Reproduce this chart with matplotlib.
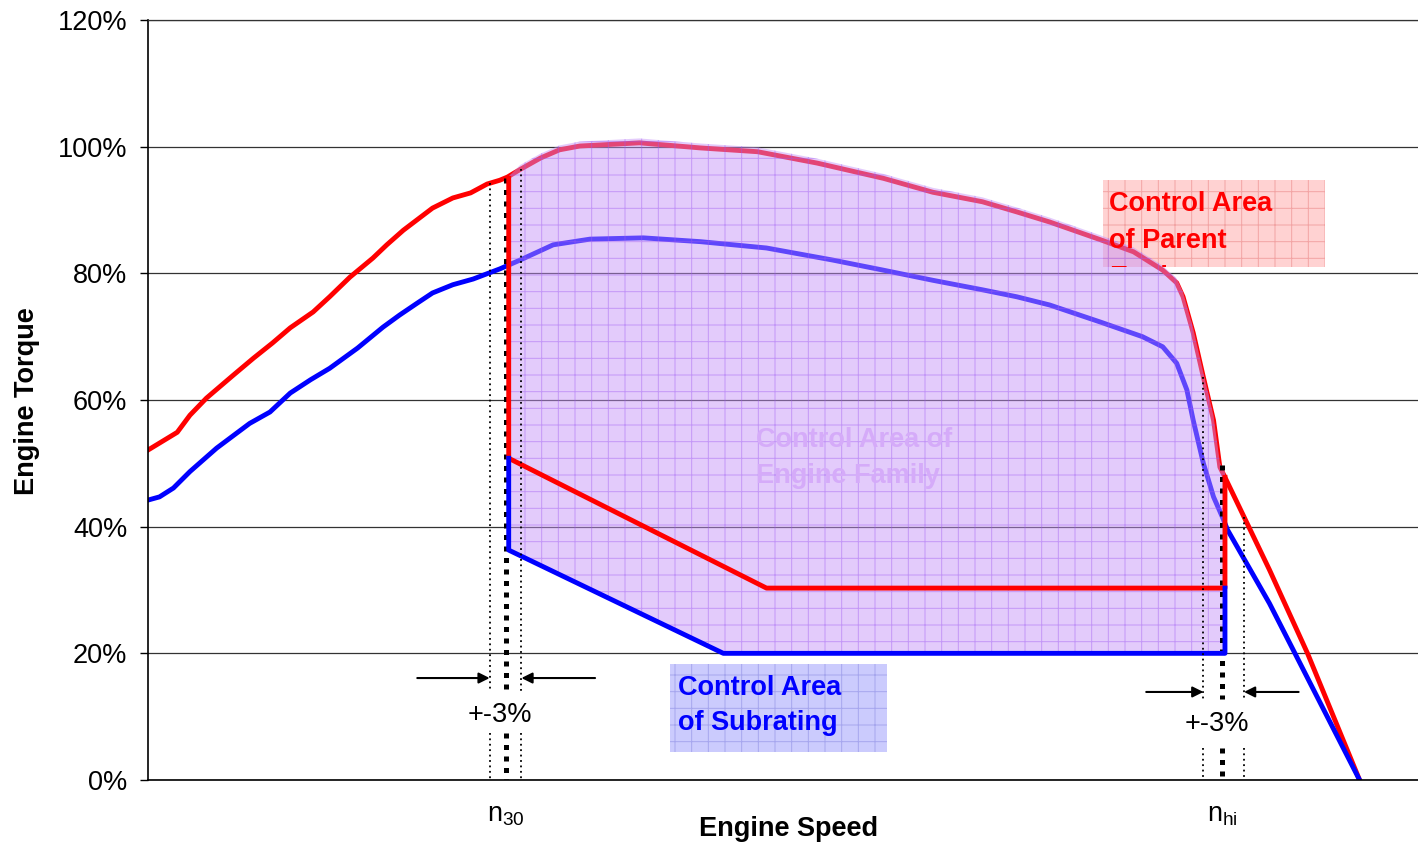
import matplotlib
import numpy as np

matplotlib.use("Agg")
import matplotlib.pyplot as plt  # noqa: E402
from matplotlib.patches import Polygon, Rectangle  # noqa: E402

plt.rcParams["font.family"] = ["Liberation Sans", "DejaVu Sans"]
plt.rcParams["mathtext.default"] = "regular"
plt.rcParams["hatch.linewidth"] = 0.7

# engine speed on a 0-100 scale across the plot, torque in % of max
parent_speed = [0.0, 2.3, 3.3, 4.6, 6.7, 8.3, 9.8, 11.2, 13.0, 14.3, 15.9, 17.7, 18.8, 20.1,
                22.4, 24.0, 25.4, 26.7, 27.7, 28.3, 29.3, 30.9, 32.4, 34.0, 38.7, 43.5, 48.0,
                52.7, 57.9, 61.8, 65.7, 68.4, 71.0, 75.0, 77.6, 79.9, 81.0, 81.5, 82.3, 83.1,
                83.9, 84.4, 84.8, 88.3, 91.3, 95.4]
parent_torque = [52.1, 54.9, 57.6, 60.3, 63.9, 66.6, 69.0, 71.4, 73.9, 76.3, 79.4, 82.4, 84.5, 86.8,
                 90.3, 91.9, 92.7, 94.1, 94.7, 95.2, 96.4, 98.2, 99.5, 100.1, 100.6, 99.8, 99.2,
                 97.4, 95.0, 92.8, 91.3, 89.7, 88.1, 85.3, 83.4, 80.5, 78.5, 76.3, 70.6, 63.6,
                 56.8, 49.4, 47.8, 33.2, 20.0, 0.0]
sub_speed = [0.0, 0.9, 2.0, 3.3, 5.4, 8.0, 9.6, 11.2, 12.8, 14.3, 16.5, 18.5, 19.8, 21.2, 22.4,
             24.0, 25.6, 27.7, 29.3, 31.9, 34.8, 39.0, 43.5, 48.7, 53.9, 57.9, 61.8, 65.7, 68.4,
             71.0, 75.0, 78.3, 79.9, 81.0, 81.8, 82.3, 83.1, 83.9, 84.6, 85.0, 88.3, 95.4]
sub_torque = [44.2, 44.7, 46.1, 48.7, 52.4, 56.3, 58.1, 61.1, 63.2, 65.0, 68.2, 71.5, 73.4, 75.3, 76.9,
              78.2, 79.1, 80.7, 82.1, 84.5, 85.4, 85.6, 85.0, 84.0, 82.1, 80.5, 78.9, 77.4, 76.3,
              75.0, 72.3, 70.0, 68.4, 65.8, 61.6, 56.8, 50.0, 44.7, 41.5, 39.5, 27.9, 0.0]

n30 = 28.4
n_hi = 84.8
mark_n30 = 28.15
mark_nhi = 84.6
tol_n30 = [26.9, 29.4]
tol_nhi = [83.1, 86.3]
gap_n30 = (7.4, 13.9)
gap_nhi = (5.0, 12.8)

parent_area_speed = [n30, n30, 48.7, n_hi, n_hi]
parent_area_torque = [95.0, 50.8, 30.3, 30.3, 47.8]
sub_area_speed = [n30, n30, 45.3, n_hi, n_hi]
sub_area_torque = [50.8, 36.3, 20.0, 20.0, 30.3]

y_ticks = [0, 20, 40, 60, 80, 100, 120]

fig = plt.figure(figsize=(14.18, 8.47), dpi=100)
ax = fig.add_axes([0.1044, 0.0791, 0.8956, 0.8973])
ax.set_xlim(0, 100)
ax.set_ylim(0, 120)

# label boxes
parent_box = Rectangle((75.2, 81.0), 17.5, 13.7, facecolor="#ffd2d2", edgecolor="#f2a4a4",
                       hatch="+", lw=0, zorder=1.5)
sub_box = Rectangle((41.1, 4.4), 17.1, 13.9, facecolor="#cbcbfd", edgecolor="#a6a6ee",
                    hatch="+", lw=0, zorder=1.5)
ax.add_patch(parent_box)
ax.add_patch(sub_box)

# full load curves
ax.plot(parent_speed, parent_torque, color="#ff0000", lw=3.5, zorder=2, solid_joinstyle="round")
ax.plot(sub_speed, sub_torque, color="#0000ff", lw=3.5, zorder=2, solid_joinstyle="round")

# control area of engine family
ps = np.array(parent_speed)
pt = np.array(parent_torque)
inside = (ps > n30) & (ps < n_hi)
upper_x = np.concatenate([[n30], ps[inside], [n_hi]])
upper_y = np.concatenate([[np.interp(n30, ps, pt)], pt[inside] + 0.7, [np.interp(n_hi, ps, pt) + 0.7]])
lower_x = [n_hi, sub_area_speed[2], n30]
lower_y = [sub_area_torque[2], sub_area_torque[2], sub_area_torque[1]]
family = Polygon(np.column_stack([np.concatenate([upper_x, lower_x]), np.concatenate([upper_y, lower_y])]),
                 closed=True, facecolor=(198 / 255, 147 / 255, 248 / 255, 0.48),
                 edgecolor=(0.62, 0.35, 0.95, 0.45), hatch="+", lw=0, zorder=3)
ax.add_patch(family)

# tolerance lines
for x, top, gap in [(mark_n30, 95.0, gap_n30), (mark_nhi, 49.7, gap_nhi)]:
    for y0, y1 in [(top, gap[1]), (gap[0], 0)]:
        ax.plot([x, x], [y0, y1], color="black", lw=3.6, ls=(0, (1, 1.3)), zorder=3.5)
for xs, gap in [(tol_n30, gap_n30), (tol_nhi, gap_nhi)]:
    for x in xs:
        top = np.interp(x, ps, pt)
        for y0, y1 in [(top, gap[1]), (gap[0], 0)]:
            ax.plot([x, x], [y0, y1], color="black", lw=1.3, ls=(0, (1, 2)), zorder=5)

ax.plot(parent_area_speed, parent_area_torque, color="#ff0000", lw=3.5, zorder=4)
ax.plot(sub_area_speed, sub_area_torque, color="#0000ff", lw=3.5, zorder=4)

arrow = dict(arrowstyle="-|>", lw=1.5, color="black", mutation_scale=16, shrinkA=0, shrinkB=0)
for y, xs, outer in [(16.1, tol_n30, (21.2, 35.2)), (13.9, tol_nhi, (78.6, 90.6))]:
    ax.annotate("", xy=(xs[0], y), xytext=(outer[0], y), arrowprops=arrow, zorder=6)
    ax.annotate("", xy=(xs[1], y), xytext=(outer[1], y), arrowprops=arrow, zorder=6)
ax.text(27.7, 10.3, "+-3%", fontsize=19.5, ha="center", va="center", zorder=6)
ax.text(84.2, 8.8, "+-3%", fontsize=19.5, ha="center", va="center", zorder=6)

# area labels
for i, line in enumerate(["Control Area", "of Parent", "Engine"]):
    t = ax.text(75.7, 89.8 - 5.8 * i, line, color="#ff0000", fontsize=19.5, fontweight="bold",
                va="baseline", zorder=6, clip_on=True)
    t.set_clip_path(parent_box)
for i, line in enumerate(["Control Area of", "Engine Family"]):
    ax.text(47.9, 52.6 - 5.7 * i, line, color="#d5abf9", fontsize=19.5, fontweight="bold",
            va="baseline", zorder=6)
for i, line in enumerate(["Control Area", "of Subrating"]):
    ax.text(41.7, 13.4 - 5.5 * i, line, color="#0000ff", fontsize=19.5, fontweight="bold",
            va="baseline", zorder=6)

# axes styling
ax.set_yticks(y_ticks, [f"{v}%" for v in y_ticks])
ax.set_xticks([mark_n30, mark_nhi], ["$n_{30}$", "$n_{hi}$"])
ax.tick_params(axis="y", direction="out", length=6, width=1, pad=9, labelsize=19.5)
ax.tick_params(axis="x", length=0, pad=16, labelsize=19.5)
ax.grid(axis="y", color="#333333", lw=0.9)
ax.set_axisbelow(True)
ax.spines["right"].set_visible(False)
ax.spines["top"].set_color("#333333")
ax.spines["top"].set_linewidth(0.9)
ax.spines["left"].set_linewidth(1.2)
ax.spines["bottom"].set_linewidth(1.2)

fig.text(0.019, 0.526, "Engine Torque", rotation=90, fontsize=19.5, fontweight="bold",
         ha="center", va="center")
fig.text(0.556, 0.021, "Engine Speed", fontsize=19.5, fontweight="bold", ha="center", va="center")

fig.savefig("out.png", dpi=100)
